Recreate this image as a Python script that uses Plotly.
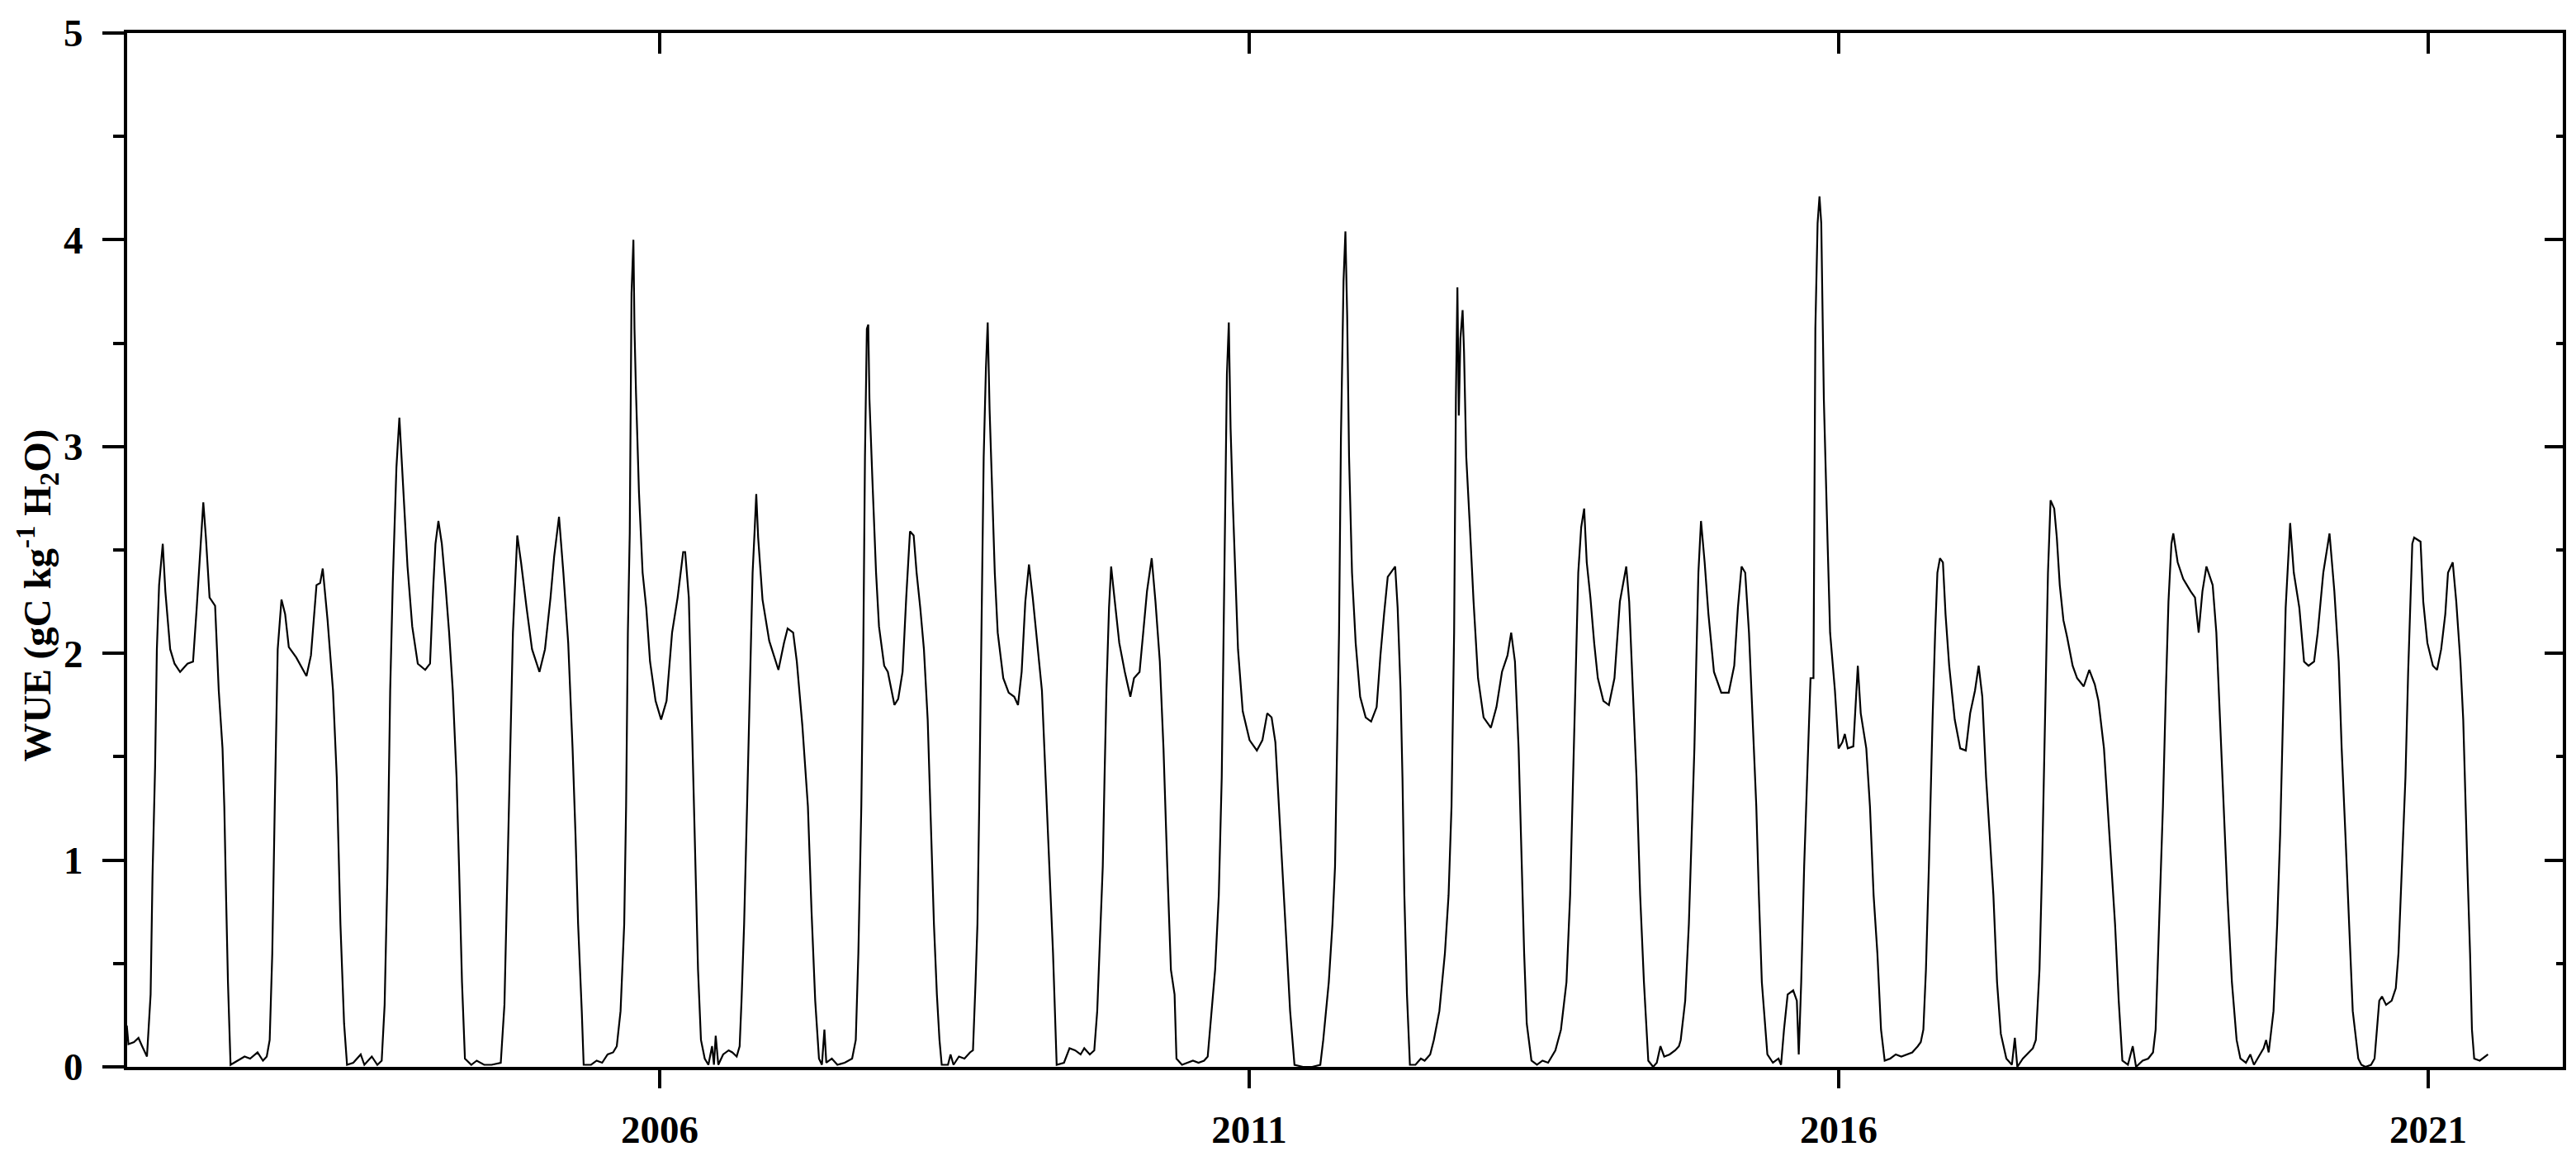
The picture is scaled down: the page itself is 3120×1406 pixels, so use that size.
import plotly.graph_objects as go

# ---- data: decimal year and WUE (gC kg-1 H2O) ----
t_2001_2006 = [2001.48, 2001.494, 2001.541, 2001.579, 2001.610, 2001.651, 2001.682, 2001.698, 2001.720, 2001.735,
               2001.754, 2001.785, 2001.807, 2001.848, 2001.885, 2001.932, 2001.995, 2002.042, 2002.073, 2002.098,
               2002.129, 2002.151, 2002.182, 2002.229, 2002.260, 2002.292, 2002.307, 2002.323, 2002.338, 2002.360,
               2002.417, 2002.479, 2002.526, 2002.589, 2002.635, 2002.667, 2002.692, 2002.714, 2002.735, 2002.760,
               2002.792, 2002.823, 2002.854, 2002.917, 2003.004, 2003.042, 2003.089, 2003.120, 2003.142, 2003.183,
               2003.229, 2003.261, 2003.292, 2003.323, 2003.348, 2003.401, 2003.464, 2003.495, 2003.558, 2003.605,
               2003.642, 2003.667, 2003.692, 2003.714, 2003.736, 2003.767, 2003.792, 2003.817, 2003.839, 2003.861,
               2003.901, 2003.948, 2004.011, 2004.052, 2004.080, 2004.098, 2004.123, 2004.152, 2004.183, 2004.214,
               2004.245, 2004.277, 2004.298, 2004.323, 2004.348, 2004.402, 2004.448, 2004.511, 2004.574, 2004.652,
               2004.683, 2004.705, 2004.730, 2004.755, 2004.792, 2004.824, 2004.871, 2004.917, 2004.980, 2005.027,
               2005.074, 2005.105, 2005.146, 2005.183, 2005.224, 2005.261, 2005.286, 2005.308, 2005.339, 2005.355,
               2005.418, 2005.465, 2005.512, 2005.558, 2005.605, 2005.636, 2005.668, 2005.699, 2005.715, 2005.730,
               2005.746, 2005.761, 2005.777, 2005.786, 2005.799, 2005.824, 2005.855, 2005.886, 2005.918, 2005.965,
               2006.012, 2006.058, 2006.105, 2006.152, 2006.199]
v_2001_2006 = [0.20, 0.11, 0.12, 0.14, 0.10, 0.05, 0.35, 0.92, 1.45, 2.02,
               2.33, 2.53, 2.30, 2.02, 1.95, 1.91, 1.95, 1.96, 2.22, 2.44,
               2.73, 2.56, 2.27, 2.23, 1.82, 1.54, 1.26, 0.80, 0.41, 0.01,
               0.03, 0.05, 0.04, 0.07, 0.03, 0.05, 0.13, 0.55, 1.26, 2.02,
               2.26, 2.19, 2.03, 1.98, 1.89, 1.99, 2.33, 2.34, 2.41, 2.16,
               1.82, 1.40, 0.69, 0.21, 0.01, 0.02, 0.06, 0.01, 0.05, 0.01,
               0.03, 0.30, 0.97, 1.82, 2.34, 2.90, 3.14, 2.87, 2.61, 2.42,
               2.13, 1.95, 1.92, 1.95, 2.33, 2.53, 2.64, 2.53, 2.33, 2.10,
               1.82, 1.40, 0.97, 0.41, 0.04, 0.01, 0.03, 0.01, 0.01, 0.02,
               0.30, 0.89, 1.57, 2.10, 2.57, 2.44, 2.22, 2.02, 1.91, 2.02,
               2.27, 2.47, 2.66, 2.39, 2.05, 1.54, 1.12, 0.69, 0.27, 0.01,
               0.01, 0.03, 0.02, 0.06, 0.07, 0.10, 0.27, 0.69, 1.26, 2.10,
               2.58, 3.74, 4.00, 3.57, 3.26, 2.78, 2.39, 2.22, 1.96, 1.77,
               1.68, 1.77, 2.10, 2.27, 2.49]

t_2006_2011 = [2006.216, 2006.247, 2006.278, 2006.303, 2006.325, 2006.350, 2006.382, 2006.413, 2006.444, 2006.460,
               2006.475, 2006.497, 2006.538, 2006.585, 2006.616, 2006.653, 2006.678, 2006.694, 2006.716, 2006.741,
               2006.760, 2006.788, 2006.804, 2006.819, 2006.835, 2006.872, 2006.929, 2007.007, 2007.054, 2007.085,
               2007.132, 2007.163, 2007.210, 2007.257, 2007.288, 2007.319, 2007.351, 2007.376, 2007.397, 2007.413,
               2007.460, 2007.507, 2007.569, 2007.632, 2007.663, 2007.685, 2007.710, 2007.726, 2007.741, 2007.757,
               2007.769, 2007.779, 2007.804, 2007.835, 2007.860, 2007.904, 2007.935, 2007.991, 2008.023, 2008.060,
               2008.091, 2008.123, 2008.154, 2008.179, 2008.210, 2008.241, 2008.273, 2008.304, 2008.326, 2008.351,
               2008.373, 2008.392, 2008.445, 2008.467, 2008.492, 2008.538, 2008.585, 2008.632, 2008.657, 2008.679,
               2008.695, 2008.710, 2008.729, 2008.748, 2008.767, 2008.782, 2008.798, 2008.820, 2008.842, 2008.867,
               2008.914, 2008.960, 2009.007, 2009.039, 2009.070, 2009.101, 2009.132, 2009.164, 2009.195, 2009.242,
               2009.273, 2009.304, 2009.336, 2009.367, 2009.429, 2009.476, 2009.523, 2009.570, 2009.601, 2009.648,
               2009.686, 2009.711, 2009.742, 2009.758, 2009.773, 2009.789, 2009.811, 2009.829, 2009.851, 2009.898,
               2009.945, 2009.992, 2010.023, 2010.070, 2010.101, 2010.133, 2010.173, 2010.205, 2010.242, 2010.273,
               2010.305, 2010.336, 2010.367, 2010.383, 2010.430, 2010.477, 2010.523, 2010.570, 2010.617, 2010.648,
               2010.680, 2010.711, 2010.742, 2010.767, 2010.783, 2010.799, 2010.811, 2010.827, 2010.842, 2010.861,
               2010.883, 2010.905, 2010.945]
v_2006_2011 = [2.49, 2.27, 1.54, 0.97, 0.47, 0.13, 0.04, 0.01, 0.10, 0.01,
               0.15, 0.01, 0.06, 0.08, 0.07, 0.05, 0.10, 0.32, 0.69, 1.26,
               1.68, 2.39, 2.58, 2.77, 2.56, 2.26, 2.06, 1.92, 2.05, 2.12,
               2.10, 1.96, 1.65, 1.26, 0.75, 0.32, 0.04, 0.01, 0.18, 0.02,
               0.04, 0.01, 0.02, 0.04, 0.13, 0.55, 1.26, 1.96, 2.95, 3.57,
               3.59, 3.23, 2.84, 2.39, 2.13, 1.94, 1.91, 1.75, 1.78, 1.91,
               2.27, 2.59, 2.57, 2.39, 2.22, 2.02, 1.68, 1.12, 0.69, 0.35,
               0.13, 0.01, 0.01, 0.06, 0.01, 0.05, 0.04, 0.07, 0.08, 0.41,
               0.69, 1.26, 2.10, 2.95, 3.38, 3.60, 3.18, 2.78, 2.39, 2.10,
               1.88, 1.81, 1.79, 1.75, 1.91, 2.25, 2.43, 2.27, 2.10, 1.82,
               1.40, 0.97, 0.55, 0.01, 0.02, 0.09, 0.08, 0.06, 0.09, 0.06,
               0.08, 0.27, 0.69, 0.97, 1.40, 1.82, 2.22, 2.42, 2.30, 2.05,
               1.91, 1.79, 1.88, 1.91, 2.10, 2.30, 2.46, 2.25, 1.96, 1.54,
               0.97, 0.47, 0.35, 0.04, 0.01, 0.02, 0.03, 0.02, 0.03, 0.05,
               0.27, 0.47, 0.83, 1.40, 2.10, 2.81, 3.35, 3.60, 3.09, 2.73,
               2.39, 2.02, 1.72]

t_2011_2015 = [2011.003, 2011.065, 2011.112, 2011.153, 2011.190, 2011.222, 2011.253, 2011.284, 2011.315, 2011.347,
               2011.384, 2011.456, 2011.534, 2011.603, 2011.628, 2011.675, 2011.706, 2011.728, 2011.747, 2011.762,
               2011.778, 2011.800, 2011.816, 2011.831, 2011.847, 2011.872, 2011.903, 2011.941, 2011.988, 2012.034,
               2012.081, 2012.113, 2012.144, 2012.175, 2012.238, 2012.259, 2012.284, 2012.300, 2012.316, 2012.338,
               2012.363, 2012.410, 2012.456, 2012.488, 2012.535, 2012.566, 2012.613, 2012.660, 2012.691, 2012.716,
               2012.738, 2012.753, 2012.766, 2012.778, 2012.791, 2012.810, 2012.822, 2012.841, 2012.872, 2012.903,
               2012.941, 2012.988, 2013.050, 2013.097, 2013.144, 2013.191, 2013.222, 2013.254, 2013.285, 2013.310,
               2013.332, 2013.354, 2013.394, 2013.441, 2013.488, 2013.535, 2013.566, 2013.597, 2013.644, 2013.691,
               2013.722, 2013.747, 2013.769, 2013.791, 2013.816, 2013.841, 2013.863, 2013.894, 2013.926, 2013.957,
               2014.004, 2014.051, 2014.098, 2014.144, 2014.198, 2014.223, 2014.254, 2014.285, 2014.316, 2014.348,
               2014.385, 2014.426, 2014.457, 2014.488, 2014.520, 2014.566, 2014.613, 2014.645, 2014.660, 2014.698,
               2014.729, 2014.754, 2014.776, 2014.792, 2014.810, 2014.832, 2014.863, 2014.895, 2014.942, 2015.004,
               2015.067, 2015.114, 2015.145, 2015.176, 2015.207, 2015.239, 2015.270, 2015.301, 2015.323, 2015.348,
               2015.395, 2015.442, 2015.489, 2015.511, 2015.536, 2015.567, 2015.614, 2015.645, 2015.661, 2015.682,
               2015.707, 2015.739, 2015.761, 2015.786]
v_2011_2015 = [1.58, 1.53, 1.58, 1.71, 1.69, 1.57, 1.26, 0.97, 0.61, 0.27,
               0.01, 0.00, 0.00, 0.01, 0.13, 0.41, 0.69, 0.97, 1.54, 2.10,
               3.04, 3.80, 4.04, 3.63, 2.95, 2.39, 2.05, 1.79, 1.69, 1.67,
               1.74, 1.99, 2.19, 2.37, 2.42, 2.22, 1.82, 1.40, 0.83, 0.35,
               0.01, 0.01, 0.04, 0.03, 0.06, 0.13, 0.27, 0.55, 0.83, 1.26,
               2.10, 3.23, 3.77, 3.15, 3.52, 3.66, 3.46, 2.95, 2.61, 2.25,
               1.88, 1.69, 1.64, 1.74, 1.91, 1.99, 2.10, 1.96, 1.54, 0.97,
               0.55, 0.21, 0.03, 0.01, 0.03, 0.02, 0.05, 0.08, 0.18, 0.41,
               0.83, 1.40, 1.96, 2.39, 2.61, 2.70, 2.44, 2.27, 2.05, 1.88,
               1.77, 1.75, 1.88, 2.25, 2.42, 2.25, 1.82, 1.40, 0.83, 0.41,
               0.03, 0.00, 0.02, 0.10, 0.05, 0.06, 0.08, 0.10, 0.13, 0.32,
               0.69, 1.12, 1.54, 1.96, 2.39, 2.64, 2.44, 2.19, 1.91, 1.81,
               1.81, 1.94, 2.22, 2.42, 2.39, 2.10, 1.68, 1.26, 0.83, 0.41,
               0.06, 0.02, 0.04, 0.01, 0.18, 0.35, 0.37, 0.32, 0.06, 0.41,
               0.97, 1.54, 1.88, 1.88]

t_2015_2020 = [2015.802, 2015.821, 2015.837, 2015.852, 2015.874, 2015.906, 2015.927, 2015.968, 2015.999, 2016.031,
               2016.052, 2016.077, 2016.124, 2016.162, 2016.187, 2016.234, 2016.265, 2016.296, 2016.328, 2016.359,
               2016.390, 2016.437, 2016.484, 2016.531, 2016.578, 2016.624, 2016.671, 2016.696, 2016.718, 2016.740,
               2016.765, 2016.781, 2016.796, 2016.818, 2016.837, 2016.859, 2016.884, 2016.906, 2016.937, 2016.984,
               2017.031, 2017.078, 2017.115, 2017.156, 2017.187, 2017.218, 2017.250, 2017.281, 2017.312, 2017.343,
               2017.375, 2017.422, 2017.469, 2017.494, 2017.515, 2017.562, 2017.609, 2017.647, 2017.672, 2017.703,
               2017.725, 2017.744, 2017.759, 2017.775, 2017.797, 2017.828, 2017.850, 2017.875, 2017.906, 2017.937,
               2017.984, 2018.022, 2018.078, 2018.125, 2018.172, 2018.203, 2018.250, 2018.281, 2018.313, 2018.344,
               2018.375, 2018.406, 2018.453, 2018.494, 2018.522, 2018.578, 2018.625, 2018.666, 2018.688, 2018.719,
               2018.750, 2018.775, 2018.797, 2018.822, 2018.838, 2018.875, 2018.922, 2018.985, 2019.022, 2019.053,
               2019.085, 2019.119, 2019.172, 2019.203, 2019.235, 2019.266, 2019.297, 2019.335, 2019.375, 2019.407,
               2019.454, 2019.491, 2019.522, 2019.563, 2019.604, 2019.625, 2019.647, 2019.688, 2019.719, 2019.744,
               2019.766, 2019.791, 2019.829, 2019.860, 2019.907, 2019.947, 2019.985, 2020.032, 2020.063, 2020.110,
               2020.163, 2020.204, 2020.241, 2020.266, 2020.298, 2020.329, 2020.360, 2020.407]
v_2015_2020 = [3.57, 4.08, 4.21, 4.08, 3.23, 2.53, 2.10, 1.82, 1.54, 1.57,
               1.61, 1.54, 1.55, 1.94, 1.71, 1.54, 1.26, 0.83, 0.55, 0.18,
               0.03, 0.04, 0.06, 0.05, 0.06, 0.07, 0.10, 0.12, 0.18, 0.47,
               0.97, 1.40, 1.68, 2.10, 2.39, 2.46, 2.44, 2.19, 1.94, 1.68,
               1.54, 1.53, 1.71, 1.82, 1.94, 1.79, 1.40, 1.12, 0.83, 0.41,
               0.16, 0.04, 0.01, 0.14, 0.00, 0.04, 0.07, 0.09, 0.13, 0.47,
               0.97, 1.54, 1.96, 2.39, 2.74, 2.70, 2.56, 2.33, 2.16, 2.08,
               1.94, 1.88, 1.84, 1.92, 1.85, 1.77, 1.54, 1.26, 0.97, 0.69,
               0.32, 0.03, 0.01, 0.10, 0.00, 0.03, 0.04, 0.07, 0.18, 0.69,
               1.26, 1.82, 2.25, 2.53, 2.58, 2.44, 2.36, 2.30, 2.27, 2.10,
               2.30, 2.42, 2.33, 2.10, 1.68, 1.26, 0.83, 0.41, 0.13, 0.04,
               0.02, 0.06, 0.01, 0.05, 0.09, 0.13, 0.07, 0.27, 0.69, 1.12,
               1.68, 2.22, 2.63, 2.39, 2.22, 1.96, 1.94, 1.96, 2.10, 2.39,
               2.58, 2.30, 1.96, 1.54, 1.12, 0.69, 0.27, 0.04]

t_2020_2021 = [2020.433, 2020.468, 2020.515, 2020.545, 2020.585, 2020.608, 2020.643, 2020.690, 2020.725, 2020.748,
               2020.765, 2020.783, 2020.807, 2020.830, 2020.849, 2020.865, 2020.881, 2020.935, 2020.958, 2020.993,
               2021.040, 2021.075, 2021.110, 2021.145, 2021.168, 2021.208, 2021.238, 2021.273, 2021.297, 2021.315,
               2021.332, 2021.355, 2021.371, 2021.390, 2021.437, 2021.507]
v_2020_2021 = [0.01, 0.00, 0.01, 0.04, 0.32, 0.34, 0.30, 0.32, 0.38, 0.55,
               0.80, 1.03, 1.40, 1.91, 2.27, 2.53, 2.56, 2.54, 2.25, 2.05,
               1.94, 1.92, 2.02, 2.19, 2.39, 2.44, 2.25, 1.96, 1.68, 1.26,
               0.97, 0.55, 0.18, 0.04, 0.03, 0.06]

x_ticks = [2006, 2011, 2016, 2021]
x_tick_labels = ["2006", "2011", "2016", "2021"]
y_ticks = [0, 1, 2, 3, 4, 5]
x_range = [2001.483, 2022.1415]
y_range = [0, 5]
y_title = "WUE (gC kg<sup>-1</sup> H<sub>2</sub>O)"

years = t_2001_2006 + t_2006_2011 + t_2011_2015 + t_2015_2020 + t_2020_2021
wue = v_2001_2006 + v_2006_2011 + v_2011_2015 + v_2015_2020 + v_2020_2021

FONT = "Liberation Serif, Times New Roman, serif"

fig = go.Figure()
fig.add_trace(go.Scatter(x=years, y=wue, mode="lines",
                         line=dict(color="black", width=2.2),
                         showlegend=False, hoverinfo="skip"))
# helper trace so the mirrored (top/right) axes are drawn
fig.add_trace(go.Scatter(x=[None], y=[None], xaxis="x2", yaxis="y2",
                         mode="lines", showlegend=False, hoverinfo="skip"))

tickfont = dict(family=FONT, size=47, color="black", weight="bold")

fig.update_layout(
    width=3120, height=1406,
    margin=dict(l=154, r=16, t=40, b=94),
    paper_bgcolor="white", plot_bgcolor="white",
    xaxis=dict(range=x_range, tickvals=x_ticks, ticktext=x_tick_labels,
               ticks="outside", ticklen=22, tickwidth=4, tickcolor="black",
               showline=True, linewidth=4, linecolor="black", mirror=False,
               showgrid=False, zeroline=False, tickfont=tickfont,
               ticklabelstandoff=10),
    xaxis2=dict(range=x_range, tickvals=x_ticks, overlaying="x", side="top",
                ticks="inside", ticklen=25, tickwidth=4, tickcolor="black",
                showline=True, linewidth=4, linecolor="black",
                showticklabels=False, showgrid=False, zeroline=False),
    yaxis=dict(range=y_range, tickvals=y_ticks,
               ticks="outside", ticklen=26, tickwidth=4, tickcolor="black",
               minor=dict(dtick=0.5, ticks="outside", ticklen=13, tickwidth=4,
                          tickcolor="black", showgrid=False),
               showline=True, linewidth=4, linecolor="black", mirror=False,
               showgrid=False, zeroline=False, tickfont=tickfont,
               ticklabelstandoff=14),
    yaxis2=dict(range=y_range, tickvals=y_ticks, overlaying="y", side="right",
                ticks="inside", ticklen=22, tickwidth=4, tickcolor="black",
                minor=dict(dtick=0.5, ticks="inside", ticklen=8, tickwidth=4,
                           tickcolor="black", showgrid=False),
                showline=True, linewidth=4, linecolor="black",
                showticklabels=False, showgrid=False, zeroline=False),
    annotations=[dict(text=y_title, textangle=-90, showarrow=False,
                      xref="paper", yref="paper", x=0, y=0.4557,
                      xanchor="center", yanchor="middle", xshift=-108,
                      font=dict(family=FONT, size=47, color="black", weight="bold"))],
)

fig.write_html("out.html", config={"displayModeBar": False},
               post_script="document.body.style.margin='0px';")
